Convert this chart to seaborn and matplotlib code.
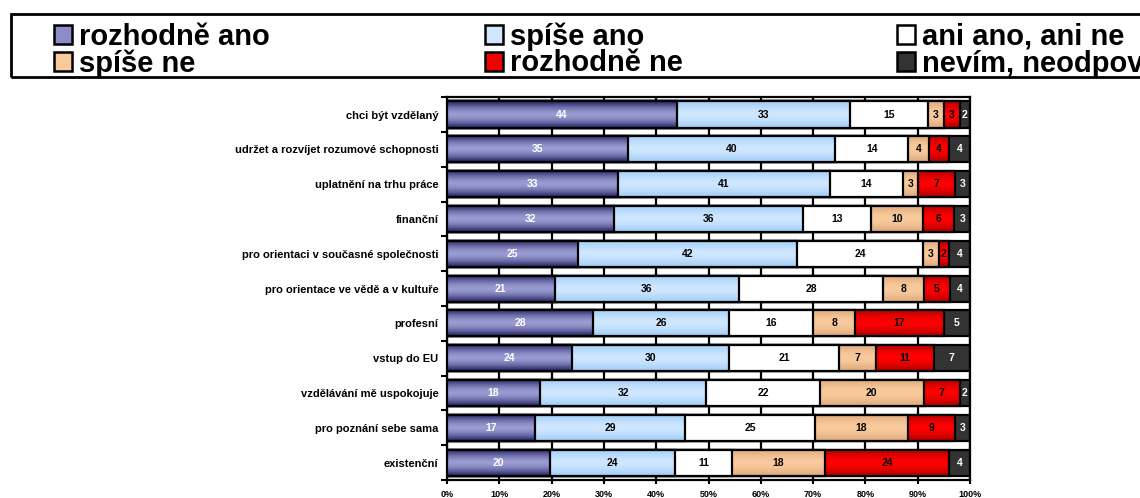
import numpy as np
import pandas as pd
import seaborn as sns
import matplotlib.pyplot as plt
from matplotlib.patches import Patch, Rectangle
from matplotlib.colors import to_rgb

# categories (top to bottom) and answer shares
categories = [
    "chci být vzdělaný",
    "udržet a rozvíjet rozumové schopnosti",
    "uplatnění na trhu práce",
    "finanční",
    "pro orientaci v současné společnosti",
    "pro orientace ve vědě a v kultuře",
    "profesní",
    "vstup do EU",
    "vzdělávání mě uspokojuje",
    "pro poznání sebe sama",
    "existenční",
]
series_names = ["rozhodně ano", "spíše ano", "ani ano, ani ne",
                "spíše ne", "rozhodně ne", "nevím, neodpověděl"]
rozhodne_ano = [44, 35, 33, 32, 25, 21, 28, 24, 18, 17, 20]
spise_ano = [33, 40, 41, 36, 42, 36, 26, 30, 32, 29, 24]
ani_ani = [15, 14, 14, 13, 24, 28, 16, 21, 22, 25, 11]
spise_ne = [3, 4, 3, 10, 3, 8, 8, 7, 20, 18, 18]
rozhodne_ne = [3, 4, 7, 6, 2, 5, 17, 11, 7, 9, 24]
nevim = [2, 4, 3, 3, 4, 4, 5, 7, 2, 3, 4]

# (edge colour, centre colour) of the vertical gradient, text colour
styles = [
    ("#1c1c5c", "#9c9cd4", "white"),
    ("#9ccaf6", "#cfe7ff", "black"),
    ("#ffffff", "#ffffff", "black"),
    ("#dba77a", "#f9cb9c", "black"),
    ("#a80000", "#ff0000", "black"),
    ("#333333", "#333333", "white"),
]

values = np.array([rozhodne_ano, spise_ano, ani_ani, spise_ne, rozhodne_ne, nevim], dtype=float)
shares = values / values.sum(axis=0) * 100
cum = np.cumsum(shares, axis=0)

plt.rcParams["font.family"] = ["Liberation Sans", "DejaVu Sans"]
plt.rcParams["font.weight"] = "bold"

fig = plt.figure(figsize=(11.4, 4.98), dpi=100)
ax = fig.add_axes([0.392, 0.036, 0.459, 0.769])


def gradient(edge, centre, n=64):
    t = np.abs(np.linspace(-1, 1, n))[:, None] ** 1.6
    e, c = np.array(to_rgb(edge)), np.array(to_rgb(centre))
    return (c * (1 - t) + e * t)[:, None, :]


# draw cumulative bars from the right-most series to the left-most one,
# left-most series on top
nser = len(series_names)
for i in range(nser - 1, -1, -1):
    z = 2 + (nser - 1 - i) * 2
    df = pd.DataFrame({"cat": categories, "cum": cum[i]})
    n_before = len(ax.patches)
    sns.barplot(data=df, x="cum", y="cat", order=categories, orient="h",
                color=styles[i][1], edgecolor="black", linewidth=1.6,
                width=0.75, zorder=z, ax=ax)
    img = gradient(styles[i][0], styles[i][1])
    for p in ax.patches[n_before:]:
        p.set_facecolor("none")
        x0, y0 = p.get_x(), p.get_y()
        im = ax.imshow(img, extent=(x0, x0 + p.get_width(), y0 + p.get_height(), y0),
                       aspect="auto", zorder=z - 0.5, interpolation="bilinear")
        im.set_clip_path(p)

# value labels
for i in range(nser):
    for j in range(len(categories)):
        start = cum[i - 1][j] if i > 0 else 0
        ax.text((start + cum[i][j]) / 2, j, f"{int(values[i][j])}",
                ha="center", va="center", fontsize=7.5, fontweight="bold",
                color=styles[i][2], zorder=30)

ax.set_xlim(0, 100)
ax.set_ylim(len(categories) - 0.5, -0.5)
ax.set_xlabel("")
ax.set_ylabel("")
ax.set_facecolor("white")
ax.set_axisbelow(True)
ax.grid(axis="x", color="black", linewidth=1.6, zorder=0)
ax.grid(axis="y", visible=False)
ax.set_xticks(np.arange(0, 101, 10))
ax.set_xticklabels([f"{v}%" for v in range(0, 101, 10)], fontsize=6.5, fontweight="bold")
ax.set_yticks(range(len(categories)))
ax.set_yticklabels(categories, fontsize=8, fontweight="bold")
ax.set_yticks(np.arange(-0.5, len(categories), 1), minor=True)
ax.tick_params(axis="y", which="major", length=0, pad=6)
ax.tick_params(axis="y", which="minor", length=4, width=1.5, direction="out")
ax.tick_params(axis="x", which="major", length=3, width=1.5, pad=4)
for s in ax.spines.values():
    s.set_color("black")
    s.set_linewidth(1.6)

# legend box across the top, running off the right edge
fig.patches.append(Rectangle((11 / 1140, 1 - 77 / 498), 1.2, 63 / 498,
                             transform=fig.transFigure, fill=False,
                             edgecolor="black", linewidth=2))
legend_fill = ["#8c8cc8", "#cfe7ff", "#ffffff", "#f9cb9c", "#f00000", "#333333"]
handles = [Patch(facecolor=legend_fill[i], edgecolor="black", linewidth=1.8) for i in range(nser)]
order = [0, 3, 1, 4, 2, 5]
leg = fig.legend([handles[k] for k in order], [series_names[k] for k in order],
                 ncol=3, loc="center left", bbox_to_anchor=(54 / 1140, 1 - 50 / 498),
                 prop={"family": "Liberation Sans", "weight": "bold", "size": 21},
                 frameon=False, handlelength=0.62, handleheight=0.64,
                 handletextpad=0.25, columnspacing=7.35, labelspacing=-0.04,
                 borderpad=0, borderaxespad=0)

fig.savefig("out.png", dpi=100)
